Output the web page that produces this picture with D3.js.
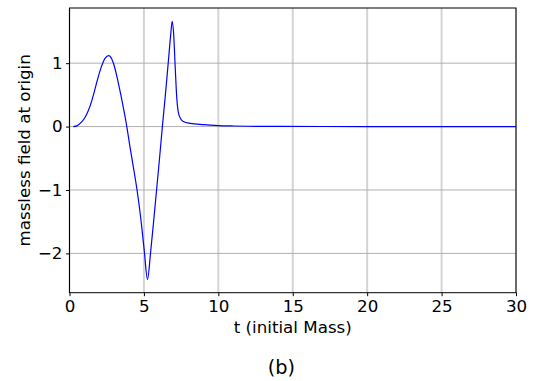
<!DOCTYPE html>
<html>
<head>
<meta charset="utf-8">
<script src="https://cdn.jsdelivr.net/npm/d3@7"></script>
<style>
  html, body { margin: 0; padding: 0; background: #fff; }
  svg { display: block; }
  text { font-family: "DejaVu Sans", sans-serif; fill: #000; }
</style>
</head>
<body>
<svg id="chart" width="534" height="381"></svg>
<script>
// Massless field sampled at the origin versus time (units of the initial mass)
const timeValues = [0.25, 0.5, 0.8, 1.03, 1.26, 1.5, 1.7, 1.95, 2.15, 2.4, 2.64, 2.85, 3.05, 3.25,
  3.45, 3.65, 3.85, 4.05, 4.3, 4.55, 4.8, 5.02, 5.24, 5.45, 5.65, 5.85, 6.05, 6.24, 6.45, 6.65,
  6.8, 6.9, 7.0, 7.1, 7.2, 7.3, 7.45, 7.65, 8.1, 9.0, 10, 11, 12, 14, 17, 20, 25, 30];
const fieldValues = [0, 0.01, 0.07, 0.14, 0.25, 0.41, 0.58, 0.8, 0.95, 1.08, 1.12, 1.06, 0.92, 0.72,
  0.5, 0.26, 0.0, -0.3, -0.65, -1.02, -1.47, -1.95, -2.41, -1.98, -1.5, -1.0, -0.5, 0.0, 0.52, 1.05,
  1.45, 1.66, 1.45, 0.95, 0.48, 0.24, 0.13, 0.08, 0.05, 0.03, 0.016, 0.009, 0.005, 0.002, 0.001, 0, 0, 0];

const xTicks = [0, 5, 10, 15, 20, 25, 30];
const yTicks = [-2, -1, 0, 1];
const xDomain = [0, 30];
const yDomain = [-2.62, 1.87];

const xLabel = "t (initial Mass)";
const yLabel = "massless field at origin";
const panelLabel = "(b)";

const plot = { left: 69.5, right: 516, top: 8, bottom: 292.7 };
const svg = d3.select("#chart");

const x = d3.scaleLinear().domain(xDomain).range([plot.left, plot.right]);
const y = d3.scaleLinear().domain(yDomain).range([plot.bottom, plot.top]);

const fmt = d => (d < 0 ? "\u2212" + Math.abs(d) : String(d));

// grid
const grid = svg.append("g");
grid.selectAll("line.vx").data(xTicks).join("line")
  .attr("x1", d => x(d)).attr("x2", d => x(d))
  .attr("y1", plot.top).attr("y2", plot.bottom)
  .attr("stroke", "#d4d4d4").attr("stroke-width", 2);
grid.selectAll("line.hy").data(yTicks).join("line")
  .attr("x1", plot.left).attr("x2", plot.right)
  .attr("y1", d => y(d)).attr("y2", d => y(d))
  .attr("stroke", "#b0b0b0").attr("stroke-width", 1);

// curve
const points = timeValues.map((t, i) => [t, fieldValues[i]]);
svg.append("path")
  .datum(points)
  .attr("fill", "none")
  .attr("stroke", "#0000ff")
  .attr("stroke-width", 1.2)
  .attr("d", d3.line().x(d => x(d[0])).y(d => y(d[1])).curve(d3.curveMonotoneX));

// frame
svg.append("rect")
  .attr("x", plot.left).attr("y", plot.top)
  .attr("width", plot.right - plot.left).attr("height", plot.bottom - plot.top)
  .attr("fill", "none").attr("stroke", "#000").attr("stroke-width", 1);

// axes
const xAxis = svg.append("g")
  .attr("transform", `translate(0,${plot.bottom})`)
  .call(d3.axisBottom(x).tickValues(xTicks).tickFormat(fmt).tickSize(3.5).tickPadding(3.5));
const yAxis = svg.append("g")
  .attr("transform", `translate(${plot.left},0)`)
  .call(d3.axisLeft(y).tickValues(yTicks).tickFormat(fmt).tickSize(3.5).tickPadding(3.5));
[xAxis, yAxis].forEach(g => {
  g.select(".domain").remove();
  g.selectAll(".tick line").attr("stroke", "#000").attr("stroke-width", 1);
  g.selectAll(".tick text")
    .style("font-family", "'DejaVu Sans', sans-serif")
    .style("font-size", "16.7px").attr("fill", "#000");
});

// labels
svg.append("text")
  .attr("x", (plot.left + plot.right) / 2).attr("y", 333)
  .attr("text-anchor", "middle").style("font-size", "16.7px")
  .text(xLabel);
svg.append("text")
  .attr("transform", `translate(30,${(plot.top + plot.bottom) / 2}) rotate(-90)`)
  .attr("text-anchor", "middle").style("font-size", "16.7px")
  .text(yLabel);
svg.append("text")
  .attr("x", 281.5).attr("y", 374)
  .attr("text-anchor", "middle").style("font-size", "19.3px")
  .text(panelLabel);
</script>
</body>
</html>
